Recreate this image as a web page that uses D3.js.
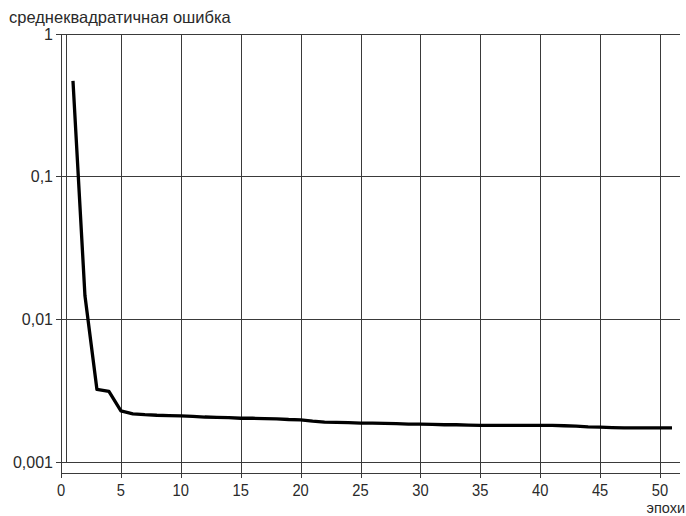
<!DOCTYPE html>
<html>
<head>
<meta charset="utf-8">
<script src="https://cdn.jsdelivr.net/npm/d3@7/dist/d3.min.js"></script>
<style>
  html, body { margin: 0; padding: 0; background: #fff; }
  svg { display: block; }
  text { font-family: "Liberation Sans", Arial, sans-serif; fill: #2a2a2a; }
</style>
</head>
<body>
<svg id="chart" width="686" height="516"></svg>
<script>
// Training error per epoch (log scale)
const epochs = [1,2,3,4,5,6,7,8,9,10,11,12,13,14,15,16,17,18,19,20,21,22,23,24,25,26,27,28,29,30,31,32,33,34,35,36,37,38,39,40,41,42,43,44,45,46,47,48,49,50,51];
const rmse = [0.465,0.0145,0.0032,0.0031,0.00226,0.00216,0.00213,0.00211,0.0021,0.00209,
              0.00207,0.00205,0.00204,0.00203,0.00201,0.00201,0.002,0.00199,0.00197,0.00196,
              0.00192,0.00189,0.00188,0.00187,0.00186,0.00186,0.00185,0.00184,0.00183,0.00183,
              0.00182,0.00181,0.00181,0.0018,0.00179,0.00179,0.00179,0.00179,0.00179,0.00179,
              0.00179,0.00178,0.00177,0.00175,0.00174,0.00173,0.00172,0.00172,0.00172,0.00172,0.00172];
const xTicks = [0,5,10,15,20,25,30,35,40,45,50];
const yTicks = [1,0.1,0.01,0.001];
const yTickLabels = ["1","0,1","0,01","0,001"];
const yTitle = "среднеквадратичная ошибка";
const xTitle = "эпохи";

const svg = d3.select("#chart");
const mLeft = 61, mRight = 680, mBottom = 473;

const x = d3.scaleLinear().domain([0, 50]).range([mLeft, 660]);
const y = d3.scaleLog().domain([1, 0.001]).range([33.5, 461.5]);

const gridColor = "#3a3a3a";
const yTop = Math.round(y(1)) + 0.5;
const yLow = Math.round(y(0.001)) + 0.5;

// horizontal grid lines (decades) with left tick marks
svg.append("g").selectAll("line").data(yTicks).join("line")
  .attr("x1", mLeft - 5).attr("x2", mRight)
  .attr("y1", d => Math.round(y(d)) + 0.5).attr("y2", d => Math.round(y(d)) + 0.5)
  .attr("stroke", gridColor).attr("stroke-width", 1);

// vertical grid lines, running through the x axis as tick marks
svg.append("g").selectAll("line").data(xTicks.filter(d => d > 0)).join("line")
  .attr("x1", d => Math.round(x(d)) + 0.5).attr("x2", d => Math.round(x(d)) + 0.5)
  .attr("y1", yTop).attr("y2", mBottom + 5)
  .attr("stroke", gridColor).attr("stroke-width", 1);

// y axis (double line) and x axis
svg.append("line").attr("x1", mLeft + 0.5).attr("x2", mLeft + 0.5)
  .attr("y1", yTop).attr("y2", mBottom + 5)
  .attr("stroke", gridColor);
svg.append("line").attr("x1", mLeft + 5.5).attr("x2", mLeft + 5.5)
  .attr("y1", yTop).attr("y2", yLow)
  .attr("stroke", gridColor);
svg.append("line").attr("x1", mLeft).attr("x2", mRight)
  .attr("y1", mBottom + 0.5).attr("y2", mBottom + 0.5)
  .attr("stroke", gridColor);

// y tick labels
svg.append("g").selectAll("text").data(yTicks).join("text")
  .attr("x", mLeft - 8).attr("y", d => y(d) + 6)
  .attr("text-anchor", "end").attr("font-size", 16)
  .text((d, i) => yTickLabels[i]);

// x tick labels (tall, condensed digits)
svg.append("g").selectAll("text").data(xTicks).join("text")
  .attr("transform", d => `translate(${x(d)},${mBottom + 23}) scale(0.92,1.08)`)
  .attr("text-anchor", "middle").attr("font-size", 16)
  .text(d => d);

// axis titles
svg.append("text").attr("x", 9).attr("y", 23).attr("font-size", 16.5).text(yTitle);
svg.append("text")
  .attr("x", 685).attr("y", 512.5).attr("text-anchor", "end")
  .attr("font-size", 14.5).text(xTitle);

// error curve
const line = d3.line().x(d => x(d[0])).y(d => y(d[1]));
svg.append("path")
  .datum(epochs.map((e, i) => [e, rmse[i]]))
  .attr("d", line)
  .attr("fill", "none").attr("stroke", "#000")
  .attr("stroke-width", 3.3).attr("stroke-linejoin", "round");
</script>
</body>
</html>
